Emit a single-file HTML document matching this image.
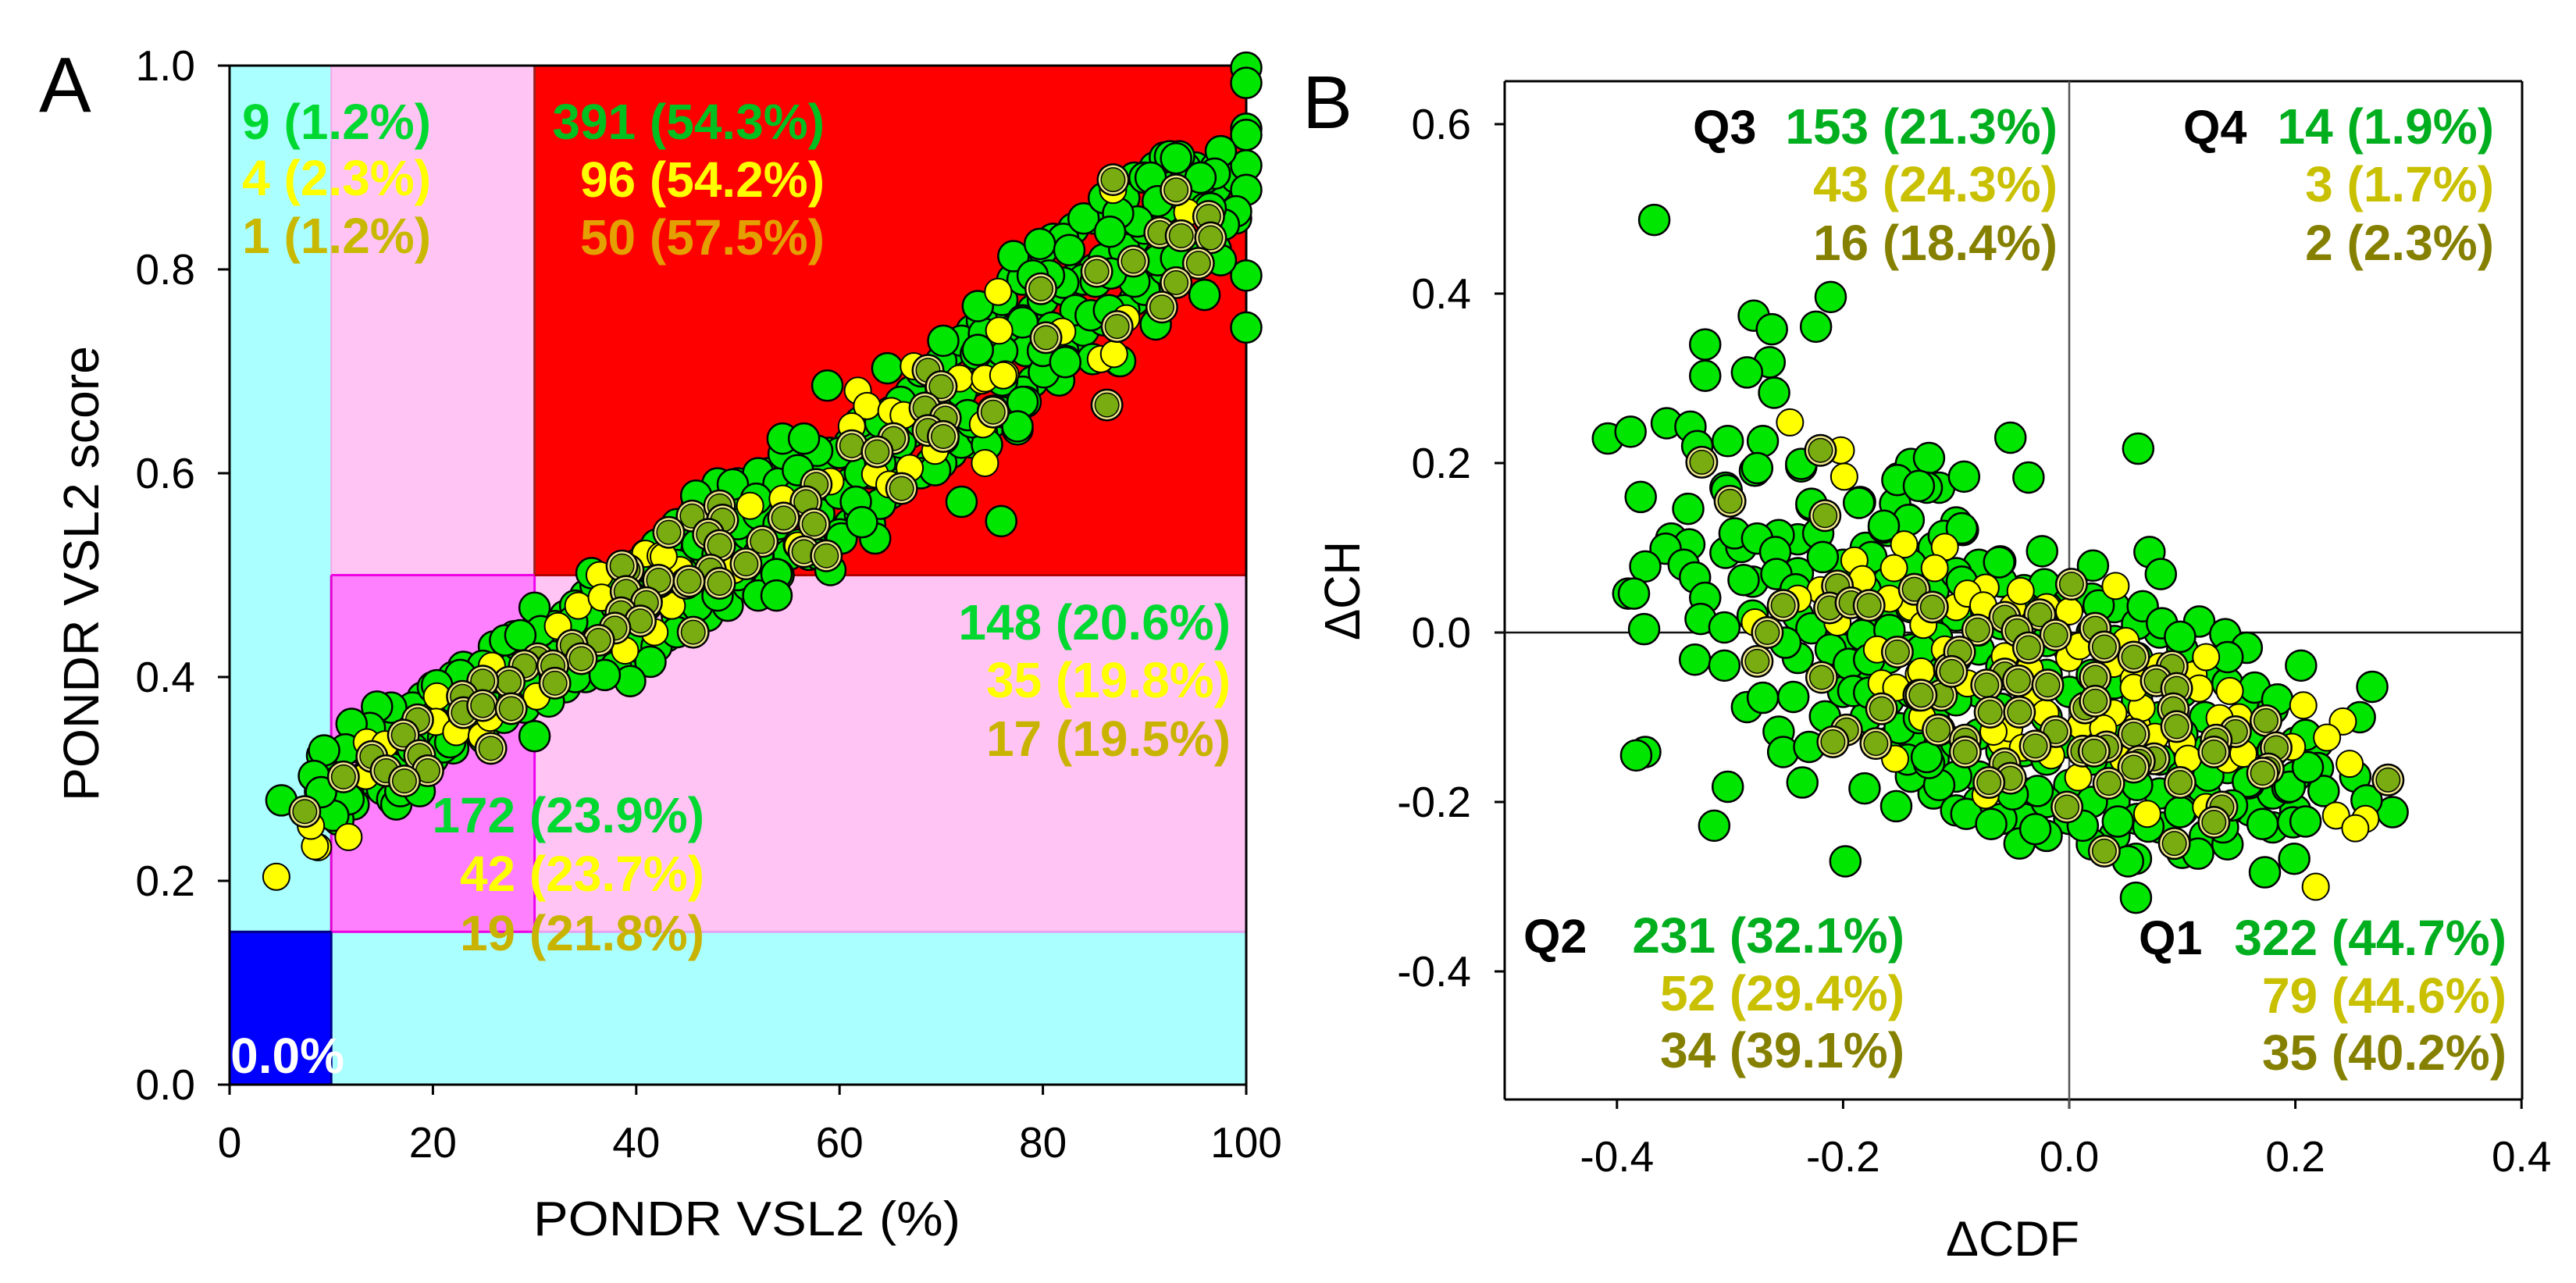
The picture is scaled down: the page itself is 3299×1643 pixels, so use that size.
<!DOCTYPE html>
<html lang="en">
<head>
<meta charset="utf-8">
<title>PONDR VSL2 and CH-CDF plots</title>
<style>
html,body{margin:0;padding:0;background:#fff}
svg{display:block}
text{font-family:"Liberation Sans",Arial,sans-serif}
.ann{font-weight:bold;font-size:64px;text-anchor:end}
.q{font-weight:bold;font-size:61px;fill:#000}
.tick{font-size:55px;fill:#000}
</style>
</head>
<body>
<svg id="fig" xmlns="http://www.w3.org/2000/svg" width="3299" height="1643" viewBox="0 0 3299 1643">
  <rect x="0" y="0" width="3299" height="1643" fill="#fff"/>
  <g id="panel-a">
    <g id="a-regions"></g>
    <g id="a-axes"></g>
    <g id="a-points"></g>
    <text x="50" y="143" font-size="100">A</text>
    <text transform="translate(126,1026) rotate(-90)" font-size="64" textLength="583" lengthAdjust="spacingAndGlyphs">PONDR VSL2 score</text>
    <text x="683" y="1582" font-size="62" textLength="547" lengthAdjust="spacingAndGlyphs">PONDR VSL2 (%)</text>
    <g>
      <text class="ann" x="552" y="178" fill="#00D832">9 (1.2%)</text>
      <text class="ann" x="552" y="250" fill="#FFFF00">4 (2.3%)</text>
      <text class="ann" x="552" y="324" fill="#C8B800">1 (1.2%)</text>
    </g>
    <g>
      <text class="ann" x="1056" y="178" fill="#00C020">391 (54.3%)</text>
      <text class="ann" x="1056" y="252" fill="#FFFF00">96 (54.2%)</text>
      <text class="ann" x="1056" y="326" fill="#E4A000">50 (57.5%)</text>
    </g>
    <g>
      <text class="ann" x="1576" y="819" fill="#00D832">148 (20.6%)</text>
      <text class="ann" x="1576" y="893" fill="#FFFF00">35 (19.8%)</text>
      <text class="ann" x="1576" y="968" fill="#C8B400">17 (19.5%)</text>
    </g>
    <g>
      <text class="ann" x="902" y="1066" fill="#00D832">172 (23.9%)</text>
      <text class="ann" x="902" y="1141" fill="#FFFF00">42 (23.7%)</text>
      <text class="ann" x="902" y="1217" fill="#C8B400">19 (21.8%)</text>
    </g>
    <text class="ann" x="441" y="1374" fill="#FFFFFF">0.0%</text>
  </g>
  <g id="panel-b">
    <g id="b-axes"></g>
    <g id="b-points"></g>
    <text x="1668" y="164" font-size="96">B</text>
    <text transform="translate(1741,820) rotate(-90)" font-size="64" textLength="127" lengthAdjust="spacingAndGlyphs">ΔCH</text>
    <text x="2492" y="1608" font-size="63" textLength="171" lengthAdjust="spacingAndGlyphs">ΔCDF</text>
    <g>
      <text class="q" x="2168" y="184">Q3</text>
      <text class="ann" x="2635" y="184" fill="#00AE1E">153 (21.3%)</text>
      <text class="ann" x="2635" y="258" fill="#C8C000">43 (24.3%)</text>
      <text class="ann" x="2635" y="333" fill="#858000">16 (18.4%)</text>
    </g>
    <g>
      <text class="q" x="2796" y="184">Q4</text>
      <text class="ann" x="3194" y="184" fill="#00AE1E">14 (1.9%)</text>
      <text class="ann" x="3194" y="258" fill="#C8C000">3 (1.7%)</text>
      <text class="ann" x="3194" y="333" fill="#858000">2 (2.3%)</text>
    </g>
    <g>
      <text class="q" x="1951" y="1220">Q2</text>
      <text class="ann" x="2439" y="1220" fill="#00AE1E">231 (32.1%)</text>
      <text class="ann" x="2439" y="1294" fill="#C8C000">52 (29.4%)</text>
      <text class="ann" x="2439" y="1367" fill="#858000">34 (39.1%)</text>
    </g>
    <g>
      <text class="q" x="2739" y="1222">Q1</text>
      <text class="ann" x="3210" y="1223" fill="#00AE1E">322 (44.7%)</text>
      <text class="ann" x="3210" y="1297" fill="#C8C000">79 (44.6%)</text>
      <text class="ann" x="3210" y="1370" fill="#858000">35 (40.2%)</text>
    </g>
  </g>
</svg>
<script>
const aXTicks = [0, 20, 40, 60, 80, 100];
const aYTicks = ["0.0", "0.2", "0.4", "0.6", "0.8", "1.0"];
const bXTicks = ["-0.4", "-0.2", "0.0", "0.2", "0.4"];
const bYTicks = ["-0.4", "-0.2", "0.0", "0.2", "0.4", "0.6"];
const aRegionBreaksX = [10, 30];
const aRegionBreaksY = [0.15, 0.5];

const aGreen = [
[13,.30],[13,.33],[15,.29],[15,.32],[15,.35],[17,.30],[17,.34],[17,.36],[19,.31],[19,.35],[19,.38],[21,.34],[21,.37],[21,.39],[23,.35],[23,.38],[23,.41],[25,.34],[25,.38],[25,.41],[27,.36],[27,.39],[27,.42],[29,.37],[29,.40],[29,.43],[31,.38],[31,.41],[31,.44],[33,.39],[33,.42],[33,.46],[35,.40],[35,.44],[35,.48],[37,.41],[37,.45],[37,.49],[39,.42],[39,.46],[39,.50],[41,.43],[41,.47],[41,.52],[43,.44],[43,.49],[43,.53],[45,.45],[45,.50],[45,.55],[47,.46],[47,.52],[47,.57],[49,.47],[49,.53],[49,.58],[51,.49],[51,.54],[51,.57],[53,.49],[53,.53],[53,.57],[53,.60],[55,.52],[55,.56],[55,.60],[57,.52],[57,.57],[57,.61],[59,.53],[59,.58],[59,.62],[61,.55],[61,.59],[61,.63],[63,.55],[63,.60],[63,.64],[65,.58],[65,.62],[65,.66],[67,.60],[67,.64],[67,.68],[69,.61],[69,.66],[69,.70],[71,.62],[71,.67],[71,.72],[73,.63],[73,.69],[73,.74],[75,.65],[75,.71],[75,.76],[77,.68],[77,.74],[77,.79],[79,.69],[79,.76],[79,.80],[81,.70],[81,.78],[81,.83],[83,.73],[83,.79],[83,.84],[85,.75],[85,.80],[85,.85],[87,.75],[87,.81],[87,.87],[89,.77],[89,.83],[89,.89],[91,.79],[91,.85],[91,.90],[93,.81],[93,.85],[93,.90],[95,.82],[95,.87],[95,.90],[97,.82],[97,.88],[97,.90],[99,.85],[99,.89],
[14,.31],[14,.34],[16,.28],[16,.31],[16,.36],[18,.30],[18,.33],[18,.37],[20,.32],[20,.36],[20,.39],[22,.33],[22,.38],[22,.40],[24,.36],[24,.40],[26,.37],[26,.40],[26,.43],[28,.38],[28,.41],[28,.44],[30,.39],[30,.42],[32,.40],[32,.43],[32,.45],[34,.40],[34,.44],[34,.47],[36,.42],[36,.46],[36,.49],[38,.41],[38,.47],[38,.50],[40,.43],[40,.48],[40,.51],[42,.43],[42,.50],[42,.53],[44,.46],[44,.51],[44,.55],[46,.47],[46,.53],[46,.57],[48,.48],[48,.52],[48,.56],[48,.59],[50,.50],[50,.55],[50,.59],[52,.48],[52,.52],[52,.56],[52,.60],[54,.50],[54,.55],[54,.59],[56,.53],[56,.58],[56,.62],[58,.52],[58,.56],[58,.60],[60,.54],[60,.58],[60,.62],[62,.56],[62,.60],[62,.65],[64,.57],[64,.61],[64,.65],[66,.59],[66,.63],[66,.67],[68,.60],[68,.65],[68,.70],[70,.61],[70,.66],[70,.71],[72,.63],[72,.68],[72,.73],[74,.64],[74,.70],[74,.75],[76,.66],[76,.72],[76,.77],[78,.68],[78,.75],[78,.79],[80,.71],[80,.77],[80,.82],[82,.72],[82,.78],[82,.83],[84,.74],[84,.79],[84,.85],[86,.75],[86,.81],[86,.87],[88,.76],[88,.82],[88,.87],[90,.78],[90,.84],[90,.89],[92,.80],[92,.86],[92,.91],[94,.82],[94,.87],[94,.90],[96,.82],[96,.86],[96,.89],
[100,.998],[100,.983],[100,.938],[100,.932],[100,.902],[100,.878],[100,.794],[100,.743],[99,.857],[97.5,.916],[96.9,.894],[95.5,.89],[93.4,.911],[92.5,.911],[93.1,.909],[90.6,.89],[91.3,.867],[89.3,.847],[87.4,.855],[86.6,.837],[97.5,.809],[95.9,.775],[97.8,.844],[96.5,.86],[77.1,.813],[79.7,.825],[82.6,.819],[82,.787],[80.6,.794],[79,.794],[85.2,.788],[89,.788],[86.7,.796],[91.3,.809],[93.1,.811],[83.2,.76],[84.7,.755],[86.5,.76],[91.1,.746],[87.5,.71],[82.3,.71],[84.9,.712],[78.3,.72],[76,.72],[80.9,.743],[81.6,.691],[80.1,.699],[78.3,.67],[77.5,.643],[73.4,.717],[74.2,.737],[78,.748],[76,.691],
[58.8,.686],[64.7,.703],[72,.572],[75.9,.553],[70.2,.73],[73.6,.721],[73.6,.764],[78,.67],[77.5,.646],[69.4,.603],[74.5,.628],[73,.65],[80,.72],[82.2,.709],[87.6,.71],[54.5,.619],[57.8,.622],[54.4,.634],[56.5,.634],[55.9,.603],[61.6,.572],[60.2,.536],[63.5,.536],[62.2,.552],[45.9,.578],[49.5,.589],[51.8,.575],[53.8,.501],[53.8,.48],[59.1,.505],[72.6,.657],[70.2,.634],
[30,.468],[30,.342],[35.6,.502],[41.4,.415],[39.4,.396],[36.9,.402],[28.3,.432],[31.4,.376],[30.6,.445],[24.9,.411],[22.7,.402],[20.4,.392],[15.9,.37],[14.5,.371],[13.8,.35],[12,.354],[9.1,.323],[11.4,.329],[11.7,.284],[12.2,.275],[16.4,.275],[16.8,.288],[18.7,.288],[8.9,.288],[8.7,.265],[10.7,.26],[44,.444],[21,.331],[21.7,.336],[27.1,.436],[28.6,.441],[33.7,.454],
[5.1,.279],[11.7,.28],[9.3,.328],[8.3,.303],[10.2,.264],[9,.287]
];
const aYellow = [
[75.6,.778],[75.7,.74],[76.3,.697],[74,.691],[85.7,.712],[87,.717],[88.2,.752],[81.9,.739],[94.2,.856],[86.9,.878],
[61.8,.681],[62.7,.666],[65.1,.661],[66.3,.657],[67.3,.705],[61.2,.646],[71.8,.693],[74.3,.693],[76.1,.696],[74.1,.648],[74.3,.61],[69.4,.622],[66.9,.605],[63.5,.599],[64.9,.589],[59.1,.592],[54.4,.575],[51.2,.568],[55.9,.529],[40.9,.521],[42.4,.519],[43.4,.47],[44.3,.505],[49.6,.505],
[34.3,.47],[32.3,.45],[36.4,.5],[36.6,.478],[43.5,.47],[41.8,.444],[38.9,.426],[20.4,.381],[20.3,.356],[22.3,.346],[24.8,.342],[30.2,.381],[25.6,.36],[13.5,.336],[13.4,.303],[15.3,.334],[11.7,.243],[8.7,.233],[25.8,.411],[42.7,.518],
[4.6,.204],[8.4,.234],[8,.254]
];
const aOlive = [
[86.9,.888],[93.1,.878],[96.3,.852],[91.5,.836],[93.6,.833],[96.5,.831],[95.3,.806],[93.1,.787],[91.7,.763],[88.9,.808],[85.3,.798],[79.8,.781],[87.3,.744],[80.3,.733],[86.3,.667],[75.1,.661],
[68.7,.701],[70,.685],[68.4,.664],[70.4,.654],[68.7,.642],[70.2,.636],[75.1,.66],[65.3,.634],[61.2,.627],[63.7,.621],[66.1,.585],[57.7,.589],[56.7,.572],[54.5,.556],[57.5,.55],[56.5,.523],[58.7,.519],[45.5,.558],[48.2,.568],[48.5,.554],[43.2,.542],[47.1,.54],[48.2,.529],[52.4,.533],[50.8,.511],[47.3,.505],[42.2,.493],[44.9,.492],[48.2,.492],[41,.474],[39.2,.505],[39.2,.482],
[38.6,.509],[42.2,.495],[45.2,.494],[39,.484],[41,.473],[38.5,.463],[40.4,.455],[37.9,.448],[45.6,.444],[36.3,.436],[33.7,.431],[34.6,.418],[30.3,.418],[29,.411],[31.8,.411],[32,.394],[27.5,.395],[24.9,.396],[22.9,.381],[23,.365],[24.9,.372],[27.7,.369],[18.5,.358],[17.1,.343],[14,.322],[18.7,.323],[15.4,.308],[19.5,.308],[17.2,.298],[11.2,.302],[25.7,.33],[7.4,.268]
];

const bGreen = [
[-.2,.08],[-.2,.04],[-.2,-.02],[-.2,-.07],[-.16,.12],[-.16,.06],[-.16,.02],[-.16,-.03],[-.16,-.08],[-.16,-.13],[-.12,.10],[-.12,.05],[-.12,0],[-.12,-.05],[-.12,-.10],[-.12,-.15],[-.12,-.19],[-.08,.08],[-.08,.03],[-.08,-.02],[-.08,-.07],[-.08,-.12],[-.08,-.17],[-.08,-.2],[-.04,.05],[-.04,.02],[-.04,-.03],[-.04,-.09],[-.04,-.14],[-.04,-.19],[-.04,-.22],[0,.04],[0,-.02],[0,-.07],[0,-.13],[0,-.18],[0,-.22],[.04,.03],[.04,-.01],[.04,-.06],[.04,-.12],[.04,-.16],[.04,-.20],[.04,-.24],[.08,0],[.08,-.05],[.08,-.1],[.08,-.15],[.08,-.19],[.08,-.23],[.12,-.05],[.12,-.1],[.12,-.14],[.12,-.19],[.12,-.24],[.16,-.08],[.16,-.12],[.16,-.17],[.16,-.21],[.2,-.13],[.2,-.17],[.2,-.21],
[-.18,.10],[-.18,.05],[-.18,0],[-.18,-.05],[-.18,-.1],[-.14,.08],[-.14,.03],[-.14,-.02],[-.14,-.07],[-.14,-.12],[-.14,-.17],[-.1,.13],[-.1,.07],[-.1,.02],[-.1,-.03],[-.1,-.08],[-.1,-.13],[-.1,-.17],[-.1,-.21],[-.06,.06],[-.06,.01],[-.06,-.04],[-.06,-.09],[-.06,-.14],[-.06,-.18],[-.06,-.22],[-.02,.03],[-.02,-.01],[-.02,-.05],[-.02,-.1],[-.02,-.15],[-.02,-.2],[-.02,-.24],[.02,.04],[.02,0],[.02,-.05],[.02,-.1],[.02,-.15],[.02,-.2],[.02,-.25],[.06,.01],[.06,-.03],[.06,-.08],[.06,-.13],[.06,-.18],[.06,-.22],[.1,-.02],[.1,-.07],[.1,-.12],[.1,-.17],[.1,-.21],[.1,-.26],[.14,-.06],[.14,-.11],[.14,-.16],[.14,-.21],[.14,-.25],[.18,-.09],[.18,-.14],[.18,-.19],[.18,-.23],[.22,-.13],[.22,-.16],[-.24,.11],[-.24,.07],[-.24,.02],[-.24,-.03],[-.28,.06],[-.28,.02],
[-.379,.16],[-.337,.146],[-.352,.111],[-.336,.104],[-.357,.099],[-.375,.078],[-.341,.08],[-.331,.065],[-.39,.046],[-.385,.046],[-.322,.041],[-.326,.016],[-.305,.006],[-.376,.004],[-.331,-.032],[-.305,-.039],[-.304,.094],[-.29,.101],[-.296,.117],[-.257,.115],[-.276,.111],[-.26,.095],[-.288,.062],[-.259,.069],[-.242,.051],[-.304,.171],[-.278,.191],[-.237,.196],[-.228,.15],[-.222,.117],[-.218,.089],[-.185,.154],[-.164,.124],[-.143,.134],[-.154,.152],[-.151,.182],[-.115,.171],[-.175,.089],[-.11,.113],[-.228,.005],[-.211,-.02],[-.195,-.037],[-.183,-.003],[-.159,.003],[-.251,-.012],[-.285,-.088],[-.271,-.077],[-.244,-.076],[-.216,-.099],[-.257,-.117],[-.253,-.141],[-.23,-.135],[-.375,-.141],[-.383,-.145],[-.302,-.182],[-.236,-.177],[-.181,-.184],[-.153,-.205],[-.115,-.18],[-.314,-.228],[-.198,-.27],[-.191,-.069],[-.177,-.071],[-.143,-.15],[-.124,-.154],[-.15,-.113],[-.133,-.101],[-.117,-.006],[-.131,-.021],[-.177,-.032],
[-.367,.487],[-.211,.396],[-.224,.361],[-.279,.374],[-.263,.358],[-.322,.34],[-.322,.303],[-.265,.319],[-.285,.307],[-.261,.283],[-.408,.229],[-.388,.237],[-.356,.247],[-.335,.243],[-.329,.22],[-.302,.226],[-.271,.226],[-.276,.194],[-.237,.199],[-.303,.168],[-.228,.152],[-.186,.153],[-.14,.199],[-.124,.206],[-.152,.18],[-.126,.171],[-.142,.133],[-.164,.126],[-.111,.114],
[-.052,.23],[-.036,.183],[.061,.217],[-.093,.184],[-.133,.173],[-.094,.121],[-.024,.096],[.071,.095],[.081,.069],[.021,.079],[.065,.031],[.115,.013],[-.061,.084],
[-.095,.123],[-.062,.083],[-.095,.06],[-.022,.057],[.082,.011],[.098,-.005],[.138,-.002],[.157,-.018],[.14,-.029],[.205,-.039],[.164,-.065],[.184,-.079],[.026,.032],[-.091,-.214],[-.069,-.226],[-.044,-.249],[-.03,-.232],[-.028,-.187],[-.05,-.191],[.012,-.228],[.043,-.223],[.07,-.229],[.098,-.212],[.059,-.267],[.052,-.27],[.114,-.261],[.059,-.313],[.173,-.283],[.199,-.267],[.171,-.226],[.198,-.224],[.193,-.183],[.136,-.23],[.123,-.169],[.159,-.178],[-.126,-.147],
[.268,-.064],[.257,-.1],[.209,-.121],[.225,-.187],[.253,-.17],[.286,-.212],[.263,-.198],[.209,-.223],[.195,-.182],[.158,-.176],[.211,-.159],[.144,-.204]
];
const bYellow = [
[-.14,.03],[-.1,.03],[-.08,0],[-.05,.03],[-.02,.03],[.02,0],[.05,-.01],[.08,-.04],[.11,-.05],[.15,-.1],[-.11,-.02],[-.09,-.06],[-.03,-.07],[.01,-.11],[.06,-.11],[.1,-.13],[.14,-.15],[-.06,-.13],[-.13,-.1],[-.17,-.02],[-.18,.03],[-.22,.05],
[-.199,.184],[-.146,.104],[-.11,.101],[-.19,.085],[-.183,.063],[-.155,.076],[-.119,.076],[-.24,.04],[-.278,.012],[-.205,.012],[-.159,.04],[-.129,.009],[-.166,-.06],[-.153,-.065],[-.133,-.049],[-.154,-.149],[-.247,.248],[-.202,.215],
[-.074,.053],[-.09,.046],[-.043,.049],[-.076,.032],[0,.025],[.041,.055],[-.057,-.028],[0,-.03],[.009,-.016],[-.035,-.043],[.039,-.037],[.121,-.029],[.115,-.066],[.142,-.069],[-.131,-.046],[.064,-.089],[.057,-.055],[.057,-.065],[.039,-.095],[-.021,-.095],[-.053,-.113],[-.067,-.117],[.133,-.101],[.03,-.113],[.076,-.123],[-.041,-.136],[-.016,-.145],[.105,-.149],[.154,-.143],[.197,-.135],[.008,-.171],[.069,-.214],[-.074,-.192],[.121,-.206],[.048,-.15],
[.207,-.086],[.242,-.105],[.228,-.124],[.248,-.155],[.236,-.216],[.262,-.22],[.253,-.231],[.218,-.3]
];
const bOlive = [
[-.3,.155],[-.216,.138],[-.253,.032],[-.267,0],[-.276,-.034],[-.205,.055],[-.212,.029],[-.193,.035],[-.177,.032],[-.137,.051],[-.121,.03],[-.152,-.023],[-.219,-.053],[-.133,-.074],[-.113,-.074],[-.166,-.09],[-.115,-.115],[-.197,-.115],[-.209,-.129],[-.171,-.131],[-.106,-.043],[-.22,.215],[-.325,.201],
[.002,.057],[-.026,.021],[-.057,.018],[-.012,-.003],[-.081,.003],[-.046,.002],[.023,.005],[-.036,-.018],[.031,-.017],[-.097,-.023],[.057,-.029],[.091,-.04],[-.104,-.046],[-.057,-.049],[-.073,-.062],[-.045,-.057],[-.019,-.062],[.023,-.053],[.077,-.057],[.095,-.066],[-.131,-.074],[-.07,-.094],[-.044,-.094],[.014,-.089],[.023,-.081],[.092,-.09],[.095,-.111],[.174,-.104],[-.116,-.115],[-.012,-.117],[.057,-.12],[.147,-.117],[.13,-.127],[-.03,-.134],[.012,-.14],[.033,-.135],[.022,-.14],[-.092,-.127],[-.092,-.141],[.183,-.136],[.075,-.149],[.062,-.152],[.128,-.141],[.057,-.159],[-.057,-.155],[.176,-.161],[.171,-.166],[-.052,-.172],[-.071,-.177],[.035,-.178],[.098,-.177],[-.002,-.206],[.135,-.206],[.128,-.224],[.093,-.249],[.031,-.258],[.282,-.174]
];

const SVGNS = "http://www.w3.org/2000/svg";
function ax(v){ return 294 + 13.02 * v; }
function ay(v){ return 1389 - 1305 * v; }
function bx(v){ return 2650 + 1448 * v; }
function by(v){ return 810 - 1085 * v; }

function mk(parent, tag, attrs){
  const el = document.createElementNS(SVGNS, tag);
  for (const k in attrs) el.setAttribute(k, attrs[k]);
  parent.appendChild(el);
  return el;
}

/* Panel A background regions */
(function(){
  const g = document.getElementById('a-regions');
  const L = ax(0), R = ax(100), T = ay(1), B = ay(0);
  const x1 = ax(aRegionBreaksX[0]), x2 = ax(aRegionBreaksX[1]);
  const y1 = ay(aRegionBreaksY[0]), y2 = ay(aRegionBreaksY[1]);
  let el;
  el = mk(g, 'rect', {x:L, y:T, width:R-L, height:B-T, fill:'#AAFFFF'});
  
  
  el = mk(g, 'rect', {x:x1, y:T, width:R-x1, height:y1-T, fill:'#FFC4F4'});
  
  
  el = mk(g, 'rect', {x:x2, y:T, width:R-x2, height:y2-T, fill:'#FF0000'});
  
  
  el = mk(g, 'rect', {x:x1, y:y2, width:x2-x1, height:y1-y2, fill:'#FF80FF'});
  
  
  el = mk(g, 'rect', {x:L, y:y1, width:x1-L, height:B-y1, fill:'#0000FF'});
  
  
  const edges = [
    [x1,T,x1,y2,'#F0A8E8',2],[x2,T,x2,y2,'#A02020',3],[x2,y2,x2,y1,'#F000F0',3],
    [x1,y2,x1,y1,'#E000D0',3],[x1,y2,x2,y2,'#F000E0',3],[x2,y2,R,y2,'#B00000',3],
    [x1,y1,x2,y1,'#F000E0',3],[x2,y1,R,y1,'#E8A0F0',3],[L,y1,x1,y1,'#000080',3],[x1,y1,x1,B,'#000090',3]
  ];
  edges.forEach(function(e){
    const ln = mk(g, 'line', {x1:e[0], y1:e[1], x2:e[2], y2:e[3], stroke:e[4], 'stroke-width':e[5]});
    
    
  });
})();

/* Axes */
function drawAxes(gid, fx, fy, xTicks, yTicks, L, R, T, B, xLabelY, yLabelRight, xTickLen, yTickLen){
  const g = document.getElementById(gid);
  const lines = [[L,T,R,T],[L,T,L,B],[R,T,R,B],[L,B,R,B]];
  lines.forEach(function(l){
    const ln = mk(g, 'line', {x1:l[0], y1:l[1], x2:l[2], y2:l[3], stroke:'#000', 'stroke-width':3});
    
    
  });
  xTicks.forEach(function(t){
    const px = fx(parseFloat(t));
    const tk = mk(g, 'line', {x1:px, y1:B, x2:px, y2:B+xTickLen, stroke:'#000', 'stroke-width':3});
    
    
    const tx = mk(g, 'text', {x:px, y:xLabelY, 'text-anchor':'middle', 'class':'tick'});
    tx.textContent = String(t);
    
    
  });
  yTicks.forEach(function(t){
    const py = fy(parseFloat(t));
    const tk = mk(g, 'line', {x1:L-yTickLen, y1:py, x2:L, y2:py, stroke:'#000', 'stroke-width':3});
    
    
    const tx = mk(g, 'text', {x:yLabelRight, y:py+19, 'text-anchor':'end', 'class':'tick'});
    tx.textContent = String(t);
    
    
  });
}
drawAxes('a-axes', ax, ay, aXTicks, aYTicks, ax(0), ax(100), ay(1), ay(0), 1482, 250, 13, 15);
drawAxes('b-axes', bx, by, bXTicks, bYTicks, 1927, 3230, 104, 1408, 1500, 1884, 12, 13);

/* Panel B zero lines */
(function(){
  const g = document.getElementById('b-axes');
  const v = mk(g, 'line', {x1:bx(0), y1:104, x2:bx(0), y2:1420, stroke:'#555', 'stroke-width':2.5});
  
  
  const h = mk(g, 'line', {x1:1914, y1:by(0), x2:3230, y2:by(0), stroke:'#111', 'stroke-width':2.5});
  
  
})();

/* Markers */
function drawGreen(g, data, fx, fy){
  data.forEach(function(d){
    const c = mk(g, 'circle', {cx:fx(d[0]), cy:fy(d[1]), r:19.5, fill:'#00E600', stroke:'#000', 'stroke-width':2.5});
    
    
  });
}
function drawYellow(g, data, fx, fy){
  data.forEach(function(d){
    const c = mk(g, 'circle', {cx:fx(d[0]), cy:fy(d[1]), r:17, fill:'#FFFF00', stroke:'#000', 'stroke-width':2});
    
    
  });
}
function drawOlive(g, data, fx, fy){
  data.forEach(function(d){
    const px = fx(d[0]), py = fy(d[1]);
    const p = mk(g, 'g', {});
    
    
    mk(p, 'circle', {cx:px, cy:py, r:21, fill:'#000'});
    mk(p, 'circle', {cx:px, cy:py, r:18.5, fill:'#EFE98A'});
    mk(p, 'circle', {cx:px, cy:py, r:16, fill:'#000'});
    mk(p, 'circle', {cx:px, cy:py, r:14.5, fill:'#78AC10'});
  });
}
const ga = document.getElementById('a-points');
drawGreen(ga, aGreen, ax, ay);
drawYellow(ga, aYellow, ax, ay);
drawOlive(ga, aOlive, ax, ay);
const gb = document.getElementById('b-points');
drawGreen(gb, bGreen, bx, by);
drawYellow(gb, bYellow, bx, by);
drawOlive(gb, bOlive, bx, by);
</script>
</body>
</html>
